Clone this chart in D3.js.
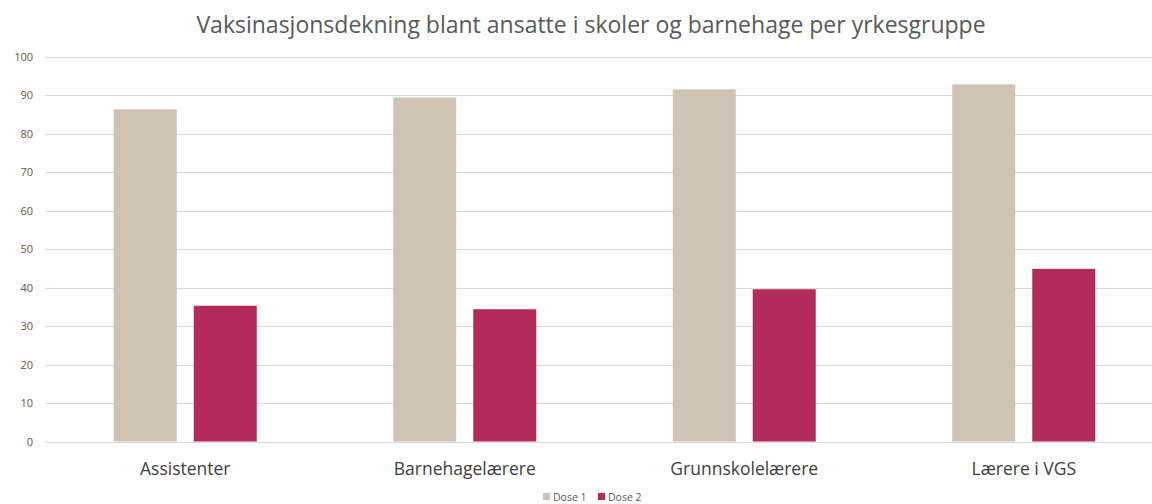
<!DOCTYPE html>
<html><head><meta charset="utf-8">
<script src="https://cdn.jsdelivr.net/npm/d3@7"></script>
<style>body{margin:0;background:#fff;}svg{display:block;}</style>
</head><body>
<svg id="c" width="1152" height="504"></svg>
<script>
const categories = ["Assistenter", "Barnehagelærere", "Grunnskolelærere", "Lærere i VGS"];
const seriesNames = ["Dose 1", "Dose 2"];
const dose1 = [86.4, 89.5, 91.6, 92.9];
const dose2 = [35.3, 34.4, 39.6, 44.9];
const yTicks = [0, 10, 20, 30, 40, 50, 60, 70, 80, 90, 100];
const colors = ["#cfc3b5", "#b32b5a"];
const title = "Vaksinasjonsdekning blant ansatte i skoler og barnehage per yrkesgruppe";

const svg = d3.select("#c");
const x0 = d3.scaleBand().domain(categories).range([45.5, 1163.5]).paddingInner(0).paddingOuter(0);
const x1 = d3.scaleBand().domain(seriesNames)
  .range([x0.bandwidth()/2 - 71.5, x0.bandwidth()/2 + 71.5]).paddingInner(0.2125).paddingOuter(0);
const y = d3.scaleLinear().domain([0, 100]).range([441.5, 57]);

// gridlines
svg.append("g").selectAll("line").data(yTicks).join("line")
  .attr("x1", 45).attr("x2", 1152)
  .attr("y1", d => Math.round(y(d)) + 0.5).attr("y2", d => Math.round(y(d)) + 0.5)
  .attr("stroke", "#d9d9d9").attr("stroke-width", 1);

// y axis labels
const yAxis = d3.axisLeft(y).tickValues(yTicks).tickSize(0).tickPadding(0);
const ya = svg.append("g").attr("transform", "translate(33,0)").call(yAxis);
ya.select(".domain").remove();
ya.selectAll("text").attr("font-family", "Open Sans, sans-serif").attr("font-size", 11).attr("fill", "#595959");

// bars
const data = categories.map((c, i) => ({c, vals: [dose1[i], dose2[i]]}));
const g = svg.append("g").selectAll("g").data(data).join("g")
  .attr("transform", d => `translate(${x0(d.c)},0)`);
g.selectAll("rect").data(d => d.vals.map((v, j) => ({k: seriesNames[j], v, j}))).join("rect")
  .attr("x", d => x1(d.k)).attr("width", x1.bandwidth())
  .attr("y", d => y(d.v)).attr("height", d => y(0) - y(d.v))
  .attr("fill", d => colors[d.j]);

// x axis labels
const xAxis = d3.axisBottom(x0).tickSize(0).tickPadding(0);
const xa = svg.append("g").attr("transform", "translate(0,475)").call(xAxis);
xa.select(".domain").remove();
xa.selectAll("text").attr("dy", 0).attr("font-family", "Open Sans, sans-serif").attr("font-size", 17.5).attr("fill", "#404040");

// title
svg.append("text").attr("x", 591).attr("y", 33).attr("text-anchor", "middle")
  .attr("font-family", "Open Sans, sans-serif").attr("font-size", 23).attr("fill", "#595959").text(title);

// legend
const leg = svg.append("g");
const legX = [543, 598];
seriesNames.forEach((s, i) => {
  leg.append("rect").attr("x", legX[i]).attr("y", 493).attr("width", 7).attr("height", 7).attr("fill", colors[i]);
  leg.append("text").attr("x", legX[i] + 10).attr("y", 500.5).attr("font-family", "Open Sans, sans-serif")
    .attr("font-size", 10.5).attr("fill", "#595959").text(s);
});
</script>
</body></html>
